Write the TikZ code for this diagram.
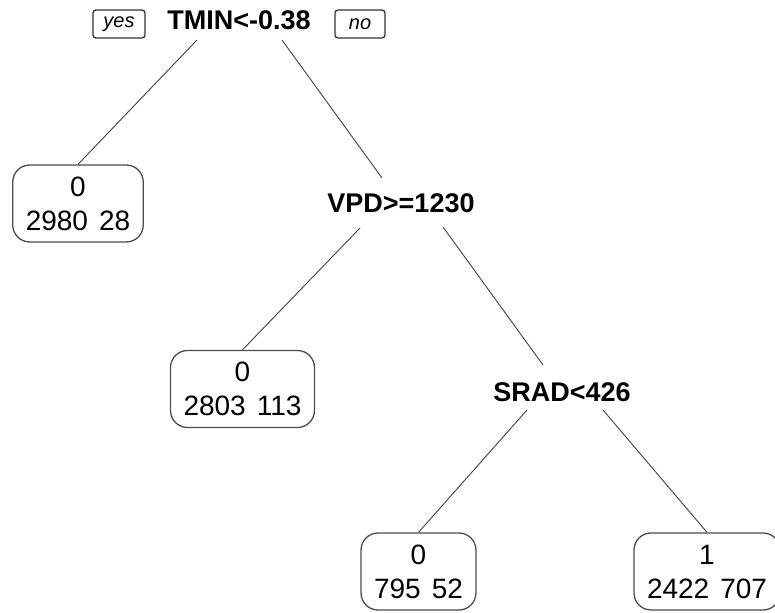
\documentclass[tikz,border=0pt]{standalone}
\usepackage{fontspec}
\setmainfont{Liberation Sans}
\usetikzlibrary{positioning}
\newcommand\leaffont{\fontsize{28}{34}\selectfont\spaceskip=11pt plus 0pt\relax}

\tikzset{
  split/.style={inner sep=0pt,font=\bfseries\fontsize{27}{32}\selectfont},
  leaf/.style={draw=black!70,line width=1.3pt,rounded corners=17pt,align=center,
    inner xsep=13pt,inner ysep=0pt,minimum height=77pt,font=\leaffont},
  tag/.style={draw=black!80,line width=1.3pt,rounded corners=3pt,inner sep=0pt,
    minimum width=52pt,minimum height=28pt,font=\itshape\fontsize{20}{24}\selectfont},
  edge/.style={draw=black!75,line width=.9pt}
}

\begin{document}
\begin{tikzpicture}[x=1pt,y=-1pt]
\path[use as bounding box] (0,0) rectangle (775,612);
\clip (0,0) rectangle (775,612);
% splits
\node[split] (tmin) at (239,20) {TMIN<-0.38};
\node[tag] (yes) at (119,24) {yes};
\node[tag,minimum width=50pt] (no) at (360,24) {no};
\node[split] (vpd) at (401,203) {VPD>=1230};
\node[split] (srad) at (562,392) {SRAD<426};
% leaves
\node[leaf] (leafA) at (78,203.5) {0\\2980 28};
\node[leaf] (leafB) at (242.5,389) {0\\2803 113};
\node[leaf] (leafC) at (418.5,571.5) {0\\795 52};
\node[leaf,minimum width=142pt] (leafD) at (707,571.5) {1\\2422 707};
% branches
\draw[edge] ([shift={(-42,20)}]tmin.center) -- (leafA.north);
\draw[edge] ([shift={(43,20)}]tmin.center) -- ([shift={(-19,-25)}]vpd.center);
\draw[edge] ([shift={(-41,25)}]vpd.center) -- (leafB.north);
\draw[edge] ([shift={(42,24)}]vpd.center) -- ([shift={(-19,-27)}]srad.center);
\draw[edge] ([shift={(-35,18)}]srad.center) -- (leafC.north);
\draw[edge] ([shift={(41,18)}]srad.center) -- (leafD.north);
\end{tikzpicture}
\end{document}
